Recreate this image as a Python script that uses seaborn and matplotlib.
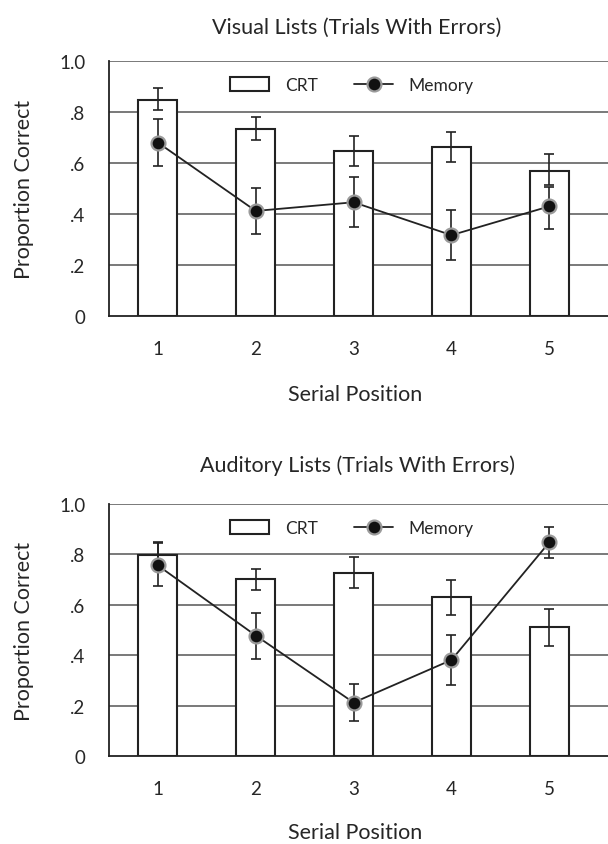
import numpy as np
import pandas as pd
import matplotlib
matplotlib.use("Agg")
import matplotlib.pyplot as plt
import seaborn as sns
from matplotlib.patches import Patch
from matplotlib.lines import Line2D

positions = ["1", "2", "3", "4", "5"]

vis_crt = [0.849, 0.734, 0.649, 0.663, 0.570]
vis_crt_lo = [0.807, 0.692, 0.590, 0.603, 0.512]
vis_crt_hi = [0.893, 0.780, 0.706, 0.723, 0.634]
vis_mem = [0.680, 0.412, 0.446, 0.317, 0.430]
vis_mem_lo = [0.590, 0.322, 0.350, 0.220, 0.341]
vis_mem_hi = [0.772, 0.503, 0.544, 0.414, 0.505]

aud_crt = [0.799, 0.702, 0.727, 0.629, 0.511]
aud_crt_lo = [0.760, 0.660, 0.666, 0.558, 0.438]
aud_crt_hi = [0.850, 0.743, 0.788, 0.699, 0.582]
aud_mem = [0.756, 0.478, 0.212, 0.381, 0.848]
aud_mem_lo = [0.674, 0.385, 0.140, 0.281, 0.786]
aud_mem_hi = [0.844, 0.569, 0.285, 0.482, 0.908]

titles = ["Visual Lists (Trials With Errors)", "Auditory Lists (Trials With Errors)"]
ytick_vals = [0, 0.2, 0.4, 0.6, 0.8, 1.0]
ytick_labels = ["0", ".2", ".4", ".6", ".8", "1.0"]

sns.set_style("white")
plt.rcParams['font.family'] = ['Lato', 'DejaVu Sans']
FS_TICK = 13.5
FS_LAB = 15.5
FS_LEG = 12.5

W, H = 608, 845
fig = plt.figure(figsize=(W / 100, H / 100), dpi=100)

panels = [
    (titles[0], vis_crt, vis_crt_lo, vis_crt_hi, vis_mem, vis_mem_lo, vis_mem_hi, 62, 317, 28, 395),
    (titles[1], aud_crt, aud_crt_lo, aud_crt_hi, aud_mem, aud_mem_lo, aud_mem_hi, 505, 757, 466, 833),
]

grid_col = "#555555"
dark = "#222222"
for (title, crt, crt_lo, crt_hi, mem, mem_lo, mem_hi, ytop, ybot, ytitle, yxlab) in panels:
    left = 109 / W
    right = 608 / W
    ax = fig.add_axes([left, 1 - ybot / H, right - left, (ybot - ytop) / H])
    df = pd.DataFrame({"pos": positions, "crt": crt, "mem": mem})
    for yv in [0.2, 0.4, 0.6, 0.8, 1.0]:
        ax.axhline(yv, color=grid_col, lw=1.1, zorder=0)
    sns.barplot(data=df, x="pos", y="crt", ax=ax, color="white", edgecolor=dark,
                linewidth=1.5, width=0.4, zorder=2, errorbar=None)
    xs = np.arange(len(positions))
    crt_arr = np.array(crt)
    ax.errorbar(xs, crt_arr, yerr=[crt_arr - np.array(crt_lo), np.array(crt_hi) - crt_arr],
                fmt="none", ecolor=dark, elinewidth=1.2, capsize=3.3, capthick=1.2, zorder=3)
    mem_arr = np.array(mem)
    ax.errorbar(xs, mem_arr, yerr=[mem_arr - np.array(mem_lo), np.array(mem_hi) - mem_arr],
                fmt="none", ecolor=dark, elinewidth=1.2, capsize=3.3, capthick=1.2, zorder=3)
    sns.lineplot(x=xs, y=mem_arr, ax=ax, color=dark, lw=1.3, zorder=4,
                 marker="o", markersize=10, markerfacecolor="#111111",
                 markeredgecolor="#9a9a9a", markeredgewidth=1.6)
    ax.set_xlim(-0.5, 4.6)
    ax.set_ylim(0, 1.0)
    ax.set_yticks(ytick_vals)
    ax.set_yticklabels(ytick_labels, fontsize=FS_TICK)
    ax.set_xticks(np.arange(-0.5, 5.0, 1.0), minor=False)
    ax.set_xticklabels([])
    ax.set_xticks(xs, minor=True)
    ax.set_xticklabels(positions, minor=True, fontsize=FS_TICK)
    ax.tick_params(axis="x", which="major", direction="out", length=7, width=1.2, color=dark)
    ax.tick_params(axis="x", which="minor", length=0, pad=17)
    ax.tick_params(axis="y", direction="out", length=7, width=1.2, color=dark, pad=10)
    for s in ["top", "right"]:
        ax.spines[s].set_visible(False)
    ax.spines["left"].set_color(dark)
    ax.spines["left"].set_linewidth(1.3)
    ax.spines["bottom"].set_color(dark)
    ax.spines["bottom"].set_linewidth(1.3)
    ax.set_xlabel("")
    ax.set_ylabel("Proportion Correct", fontsize=FS_LAB, labelpad=18)
    handles = [Patch(facecolor="white", edgecolor=dark, linewidth=1.5),
               Line2D([0], [0], color=dark, lw=1.3, marker="o", markersize=10,
                      markerfacecolor="#111111", markeredgecolor="#9a9a9a", markeredgewidth=1.6)]
    ax.legend(handles, ["CRT", "Memory"], ncol=2, frameon=False, fontsize=FS_LEG,
              loc="center", bbox_to_anchor=(352 / W, 1 - (ytop + 24) / H),
              bbox_transform=fig.transFigure, handlelength=2.25, handleheight=0.8,
              columnspacing=2.1, handletextpad=0.9)
    fig.text(357 / W, 1 - ytitle / H, title, ha="center", va="center", fontsize=FS_LAB)
    fig.text(355 / W, 1 - yxlab / H, "Serial Position", ha="center", va="center", fontsize=FS_LAB)

fig.savefig("out.png", dpi=100)
